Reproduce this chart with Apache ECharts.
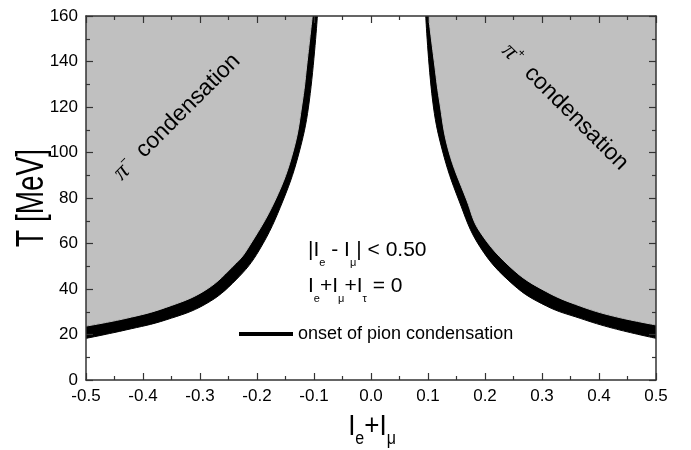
<!DOCTYPE html>
<html>
<head>
<meta charset="utf-8">
<script src="https://cdn.jsdelivr.net/npm/echarts@6/dist/echarts.min.js"></script>
<style>
html,body{margin:0;padding:0;background:#fff;}
#chart{width:691px;height:450px;}
</style>
</head>
<body>
<div id="chart"></div>
<script>
// ---- data ----
// left branch (pi- condensation)
const leftOuterX = [-0.5, -0.43, -0.36, -0.29, -0.237, -0.218, -0.168, -0.136, -0.120, -0.112, -0.103];
const leftOuterT = [23.7, 27.1, 31.9, 39.6, 51.3, 57.1, 79.1, 101.1, 123.1, 140, 160];
const leftInnerX = [-0.5, -0.43, -0.36, -0.29, -0.237, -0.196, -0.154, -0.125, -0.108, -0.094];
const leftInnerT = [18.3, 22.0, 26.4, 33.4, 44.0, 57.1, 79.1, 101.1, 123.1, 160];
// right branch (pi+ condensation)
const rightInnerX = [0.096, 0.108, 0.125, 0.154, 0.191, 0.25, 0.308, 0.367, 0.425, 0.5];
const rightInnerT = [160, 123.1, 101.1, 79.1, 58.6, 41.8, 32.5, 27.1, 22.7, 18.3];
const rightOuterX = [0.101, 0.111, 0.120, 0.136, 0.168, 0.191, 0.25, 0.308, 0.367, 0.425, 0.5];
const rightOuterT = [160, 140, 123.1, 101.1, 79.1, 65.2, 48.4, 38.8, 32.5, 28.1, 24.2];

const xRange = [-0.5, 0.5];
const yRange = [0, 160];
const legendName = 'onset of pion condensation';

const zip = (xs, ys) => xs.map((x, i) => [x, ys[i]]);

const FONT = '"Liberation Sans", Arial, Helvetica, sans-serif';
const AX = '#333';
const GRAY = '#c0c0c0';

function xAxisCfg(pos, labels) {
  return {
    type: 'value', position: pos, min: xRange[0], max: xRange[1], interval: 0.1, z: 10,
    axisLine: {show: true, onZero: false, lineStyle: {color: AX, width: 1.5}},
    axisTick: {show: true, inside: true, length: 7, lineStyle: {color: AX, width: 1.2}},
    minorTick: {show: true, splitNumber: 2, length: 4, lineStyle: {color: AX, width: 1.2}},
    splitLine: {show: false}, minorSplitLine: {show: false},
    axisLabel: {show: labels, fontSize: 17, color: '#000', fontFamily: FONT, margin: 8,
      formatter: v => (Math.abs(v) < 1e-9 ? 0 : v).toFixed(1)}
  };
}
function yAxisCfg(pos, labels) {
  return {
    type: 'value', position: pos, min: yRange[0], max: yRange[1], interval: 20, z: 10,
    axisLine: {show: true, onZero: false, lineStyle: {color: AX, width: 1.5}},
    axisTick: {show: true, inside: true, length: 7, lineStyle: {color: AX, width: 1.2}},
    minorTick: {show: true, splitNumber: 2, length: 4, lineStyle: {color: AX, width: 1.2}},
    splitLine: {show: false}, minorSplitLine: {show: false},
    axisLabel: {show: labels, fontSize: 17, color: '#000', fontFamily: FONT, margin: 8}
  };
}

function band(name, data, color, z) {
  return {
    type: 'line', name: name, data: data, smooth: 0.4,
    symbol: 'none', showSymbol: false, z: z, animation: false,
    itemStyle: {color: color},
    lineStyle: {color: color, width: 1},
    areaStyle: {color: color, opacity: 1, origin: 'end'}
  };
}

const chart = echarts.init(document.getElementById('chart'), null, {renderer: 'canvas'});
chart.setOption({
  animation: false,
  backgroundColor: '#fff',
  textStyle: {fontFamily: FONT},
  grid: {left: 86, right: 35, top: 16, bottom: 70, show: false},
  xAxis: [xAxisCfg('bottom', true), xAxisCfg('top', false)],
  yAxis: [yAxisCfg('left', true), yAxisCfg('right', false)],
  legend: {
    data: [legendName], left: 239, top: 325, padding: 0,
    icon: 'rect', itemWidth: 54, itemHeight: 4,
    itemStyle: {color: '#000'},
    textStyle: {fontSize: 18, color: '#000', fontFamily: FONT}
  },
  series: [
    band(legendName, zip(leftInnerX, leftInnerT), '#000', 2),
    band('leftOuter', zip(leftOuterX, leftOuterT), GRAY, 3),
    band('rightInner', zip(rightInnerX, rightInnerT), '#000', 2),
    band('rightOuter', zip(rightOuterX, rightOuterT), GRAY, 3)
  ],
  graphic: [
    { // |Ie - Iμ| < 0.50
      type: 'text', x: 308, y: 240, z: 100,
      style: {
        text: '{m||I}{s|e}{m| - I}{s|μ}{m|| < 0.50}',
        align: 'left', verticalAlign: 'top', fontFamily: FONT, fill: '#000',
        rich: {
          m: {fontSize: 21, lineHeight: 26, verticalAlign: 'top', fontFamily: FONT, fill: '#000'},
          s: {fontSize: 11, lineHeight: 11, padding: [17, 0, 0, 0], verticalAlign: 'top', fontFamily: FONT, fill: '#000'}
        }
      }
    },
    { // Ie+Iμ+Iτ = 0
      type: 'text', x: 308, y: 276, z: 100,
      style: {
        text: '{m|I}{s|e}{m|+I}{s|μ}{m|+I}{s|τ}{m| = 0}',
        align: 'left', verticalAlign: 'top', fontFamily: FONT, fill: '#000',
        rich: {
          m: {fontSize: 21, lineHeight: 26, verticalAlign: 'top', fontFamily: FONT, fill: '#000'},
          s: {fontSize: 11, lineHeight: 11, padding: [17, 0, 0, 0], verticalAlign: 'top', fontFamily: FONT, fill: '#000'}
        }
      }
    },
    { // pi- condensation
      type: 'text', x: 177, y: 117, rotation: Math.PI / 4, z: 100,
      style: {
        text: '{p|π}{u|−}{m|  condensation}',
        align: 'center', verticalAlign: 'middle', fontFamily: FONT, fill: '#000',
        rich: {
          p: {fontSize: 24, lineHeight: 26, fontFamily: '"Liberation Serif", serif', fontStyle: 'italic', fill: '#000'},
          u: {fontSize: 12, lineHeight: 12, verticalAlign: 'top', fontFamily: FONT, fill: '#000'},
          m: {fontSize: 23, lineHeight: 26, fontFamily: FONT, fill: '#000'}
        }
      }
    },
    { // pi+ condensation
      type: 'text', x: 565, y: 107, rotation: -Math.PI / 4, z: 100,
      style: {
        text: '{p|π}{u|+}{m|  condensation}',
        align: 'center', verticalAlign: 'middle', fontFamily: FONT, fill: '#000',
        rich: {
          p: {fontSize: 24, lineHeight: 26, fontFamily: '"Liberation Serif", serif', fontStyle: 'italic', fill: '#000'},
          u: {fontSize: 12, lineHeight: 12, verticalAlign: 'top', fontFamily: FONT, fill: '#000'},
          m: {fontSize: 23, lineHeight: 26, fontFamily: FONT, fill: '#000'}
        }
      }
    },
    { // x axis name: Ie+Iμ
      type: 'text', x: 372, y: 429.5, scaleY: 1.15, z: 100,
      style: {
        text: '{m|I}{s|e}{m|+I}{s|μ}',
        align: 'center', verticalAlign: 'middle', fontFamily: FONT, fill: '#000',
        rich: {
          m: {fontSize: 26, lineHeight: 30, verticalAlign: 'top', fontFamily: FONT, fill: '#000'},
          s: {fontSize: 16, lineHeight: 15, padding: [15, 0, 0, 0], verticalAlign: 'top', fontFamily: FONT, fill: '#000'}
        }
      }
    },
    { // y axis name
      type: 'text', x: 32.5, y: 198, rotation: Math.PI / 2, scaleY: 1.4, z: 100,
      style: {
        text: 'T [MeV]', fontSize: 28, fontFamily: FONT, fill: '#000',
        align: 'center', verticalAlign: 'middle'
      }
    }
  ]
});
</script>
</body>
</html>
